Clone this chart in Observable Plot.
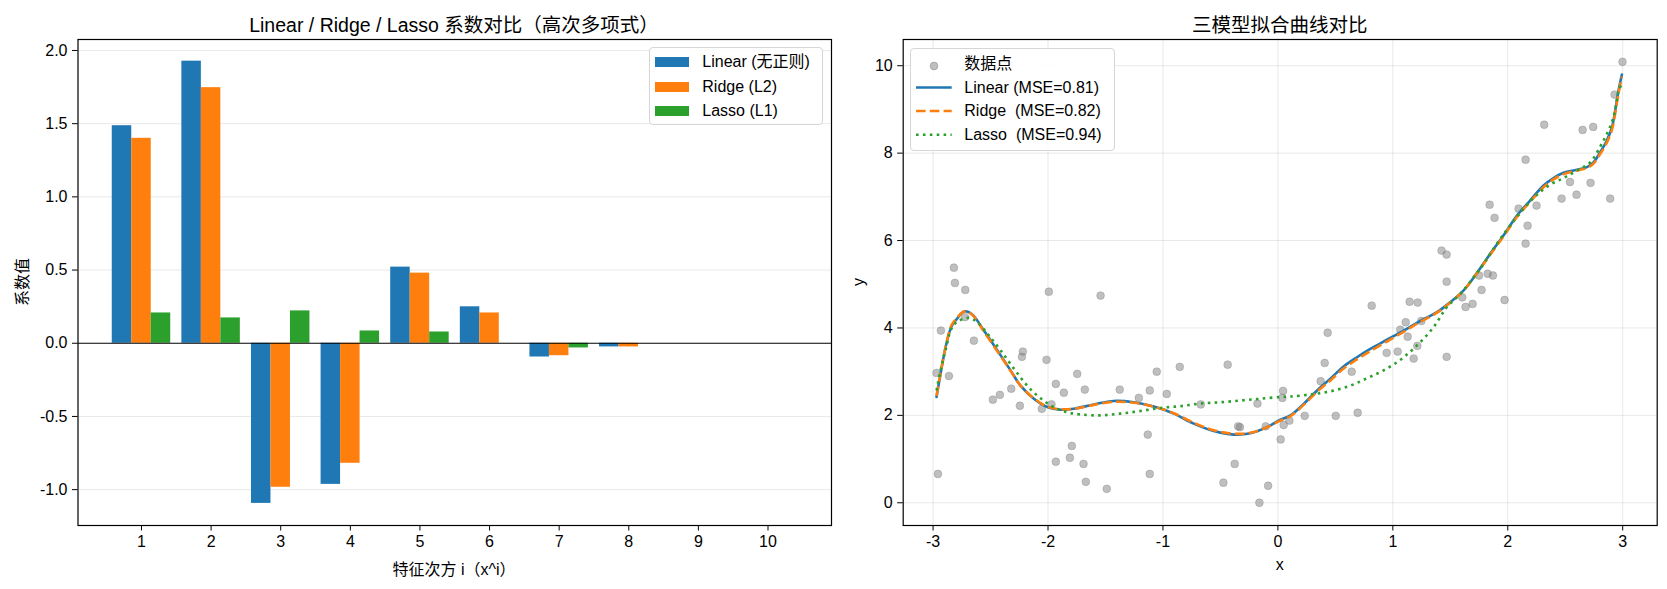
<!DOCTYPE html>
<html>
<head>
<meta charset="utf-8">
<script src="https://cdn.jsdelivr.net/npm/d3@7"></script>
<script src="https://cdn.jsdelivr.net/npm/@observablehq/plot@0.6"></script>
<style>
  body { margin: 0; background: #fff; }
  #root { position: relative; width: 1667px; height: 589px; overflow: hidden;
          font-family: "Liberation Sans", "Noto Sans CJK SC", sans-serif; color: #000; }
  .panel { position: absolute; top: 0; }
  .txt { position: absolute; white-space: pre; transform: translate(-50%, -50%); }
  .title { font-size: 19.5px; }
  .lab { font-size: 16px; }
  .legend { position: absolute; border: 1px solid #d6d6d6; border-radius: 4px;
            background: rgba(255,255,255,0.85); box-sizing: border-box; }
  .lrow { position: absolute; font-size: 16px; white-space: pre; height: 20px; line-height: 20px; }
</style>
</head>
<body>
<div id="root"></div>
<script>
// ---------------- data ----------------
const degrees = [1, 2, 3, 4, 5, 6, 7, 8, 9, 10];
const coefLinear = [1.486, 1.927, -1.094, -0.964, 0.520, 0.249, -0.094, -0.025, 0, 0];
const coefRidge  = [1.400, 1.746, -0.984, -0.820, 0.479, 0.207, -0.085, -0.025, 0, 0];
const coefLasso  = [0.207, 0.173, 0.221, 0.084, 0.077, 0, -0.032, 0, 0, 0];
const barSeries = ["Linear (无正则)", "Ridge (L2)", "Lasso (L1)"];
const barYTicks = [-1.0, -0.5, 0.0, 0.5, 1.0, 1.5, 2.0];

const scatterX = [-2.819,-2.810,-2.720,-1.993,-1.543,-2.932,-2.723,-2.645,-2.970,-2.862,
  -2.219,-2.227,-2.013,-1.746,-1.054,-0.854,-0.437,-2.480,-2.419,-2.320,
  -2.245,-1.932,-1.862,-1.680,-2.054,-1.970,-1.376,-1.115,-1.210,-0.967,
  -0.671,-0.178,0.045,0.039,-0.346,-0.106,0.050,0.024,-1.132,-1.793,
  -1.932,-1.810,-1.691,-1.671,-1.489,-1.115,-2.958,-0.376,-0.474,-0.085,
  -0.161,-0.330,
  0.100,0.233,0.503,0.694,0.372,0.407,0.642,0.433,0.816,0.946,
  1.042,1.065,1.112,1.129,1.146,1.216,1.248,1.213,1.181,1.468,
  1.468,1.604,1.633,1.694,1.772,1.750,1.825,1.871,1.972,
  2.998,2.929,2.317,2.651,2.743,2.155,2.541,2.720,2.468,2.598,
  2.891,1.842,2.094,2.250,1.885,2.172,2.155,1.424,1.468];
const scatterY = [5.38,5.03,4.87,4.83,4.74,3.94,4.25,3.71,2.97,2.90,
  3.46,3.34,3.27,2.95,3.00,3.11,3.16,2.36,2.47,2.61,
  2.22,2.72,2.52,2.59,2.15,2.25,2.59,2.57,2.40,2.49,
  2.25,2.27,2.56,2.40,1.75,1.75,1.78,1.45,1.56,1.30,
  0.94,1.03,0.89,0.48,0.32,0.66,0.66,0.89,0.46,0.39,
  0.00,1.73,
  1.88,1.99,1.99,2.06,2.78,3.20,3.00,3.89,4.51,3.43,
  3.46,3.96,4.13,3.80,4.60,4.58,4.16,3.59,3.30,3.34,
  5.06,4.70,4.48,4.55,4.87,5.20,5.24,5.20,4.64,
  10.09,9.34,8.65,8.53,8.60,7.85,7.34,7.32,6.96,7.05,
  6.96,6.82,6.73,6.80,6.52,6.34,5.93,5.77,5.68];

const linearX = [-2.970,-2.935,-2.891,-2.842,-2.804,-2.726,-2.659,-2.558,-2.442,-2.326,
  -2.239,-2.123,-2.007,-1.891,-1.776,-1.602,-1.428,-1.254,-1.080,-0.906,
  -0.732,-0.558,-0.384,-0.239,-0.094,0.022,0.109,0.224,0.341,0.457,
  0.572,0.688,0.804,0.949,1.094,1.239,1.384,1.500,1.616,1.732,
  1.848,1.964,2.080,2.196,2.311,2.398,2.485,2.601,2.688,2.746,
  2.804,2.862,2.906,2.935,2.963,2.993];
const linearY = [2.42,2.95,3.56,4.02,4.17,4.38,4.31,3.94,3.49,3.03,
  2.68,2.38,2.19,2.13,2.15,2.25,2.33,2.30,2.20,2.04,
  1.81,1.64,1.56,1.59,1.73,1.90,2.00,2.26,2.57,2.84,
  3.12,3.33,3.52,3.73,3.94,4.16,4.36,4.59,4.86,5.26,
  5.70,6.12,6.57,6.92,7.26,7.43,7.55,7.62,7.68,7.79,
  8.02,8.29,8.59,8.98,9.43,9.80];
const ridgeX = linearX.slice();
const ridgeY = [2.45,2.97,3.57,4.05,4.19,4.38,4.30,3.92,3.47,3.02,
  2.68,2.39,2.20,2.14,2.15,2.24,2.31,2.29,2.20,2.05,
  1.83,1.66,1.58,1.60,1.73,1.88,1.98,2.24,2.54,2.80,
  3.07,3.28,3.47,3.69,3.91,4.14,4.35,4.58,4.86,5.25,
  5.68,6.10,6.54,6.89,7.22,7.40,7.52,7.60,7.66,7.76,
  7.98,8.24,8.53,8.92,9.36,9.75];
const lassoX = [-2.970,-2.935,-2.891,-2.846,-2.797,-2.689,-2.616,-2.515,-2.413,-2.297,
  -2.181,-2.065,-1.950,-1.833,-1.717,-1.543,-1.370,-1.196,-1.022,-0.848,
  -0.674,-0.500,-0.326,-0.152,0.022,0.109,0.283,0.457,0.630,0.776,
  0.920,1.065,1.210,1.355,1.471,1.587,1.703,1.790,1.906,2.022,
  2.137,2.254,2.370,2.485,2.601,2.717,2.804,2.862,2.920,2.963,2.985];
const lassoY = [2.57,3.03,3.50,3.95,4.13,4.23,4.13,3.83,3.49,3.07,
  2.68,2.39,2.19,2.07,2.02,2.00,2.04,2.10,2.17,2.21,
  2.27,2.30,2.34,2.38,2.42,2.43,2.48,2.55,2.68,2.85,
  3.03,3.27,3.60,4.02,4.48,4.78,5.16,5.47,5.93,6.35,
  6.73,7.05,7.28,7.43,7.60,7.79,8.15,8.44,8.82,9.40,9.55];
const fitLegend = ["数据点", "Linear (MSE=0.81)", "Ridge  (MSE=0.82)", "Lasso  (MSE=0.94)"];
const fitXTicks = [-3, -2, -1, 0, 1, 2, 3];
const fitYTicks = [0, 2, 4, 6, 8, 10];

// ---------------- styling ----------------
const colors = ["#1f77b4", "#ff7f0e", "#2ca02c"];
const FONT = '"Liberation Sans", "Noto Sans CJK SC", sans-serif';
const root = document.getElementById("root");
const fmtMinus = (f) => (d) => f(d).replace("\u2212", "-");

function addText(str, x, y, cls, rotate) {
  const el = document.createElement("div");
  el.className = "txt " + cls;
  el.textContent = str;
  el.style.left = x + "px";
  el.style.top = y + "px";
  if (rotate) el.style.transform = "translate(-50%, -50%) rotate(-90deg)";
  root.appendChild(el);
}

// ---------------- left chart: coefficients ----------------
const barW = 0.28;
const coefSets = [coefLinear, coefRidge, coefLasso];
const bars = [];
coefSets.forEach((vals, k) => degrees.forEach((deg, i) => {
  if (vals[i] !== 0) bars.push({deg, value: vals[i], k});
}));

const left = Plot.plot({
  width: 840, height: 589,
  marginLeft: 77.5, marginRight: 9, marginTop: 39, marginBottom: 64,
  style: {fontFamily: FONT, fontSize: "16px", color: "#000", background: "transparent"},
  x: {domain: [0.088, 10.912]},
  y: {domain: [-1.245, 2.075]},
  marks: [
    Plot.gridY(barYTicks.filter(d => d !== 0), {stroke: "#000", strokeOpacity: 0.1, strokeWidth: 0.9}),
    Plot.rect(bars, {
      x1: d => d.deg + (d.k - 1) * barW - barW / 2,
      x2: d => d.deg + (d.k - 1) * barW + barW / 2,
      y1: 0, y2: "value",
      fill: d => colors[d.k]
    }),
    Plot.ruleY([0], {stroke: "#000", strokeWidth: 1.1}),
    Plot.axisX(degrees, {tickSize: 5.5, tickPadding: 5, label: null, fontSize: 16, tickFormat: d => String(d)}),
    Plot.axisY(barYTicks, {tickSize: 5.5, tickPadding: 5, label: null, fontSize: 16, tickFormat: d => d.toFixed(1)}),
    Plot.frame({stroke: "#000", strokeWidth: 1.2})
  ]
});
left.classList.add("panel");
left.style.left = "0px";
root.appendChild(left);

// ---------------- right chart: fitted curves ----------------
const pts = scatterX.map((x, i) => ({x, y: scatterY[i]}));
const lin = linearX.map((x, i) => ({x, y: linearY[i]}));
const rid = ridgeX.map((x, i) => ({x, y: ridgeY[i]}));
const las = lassoX.map((x, i) => ({x, y: lassoY[i]}));

const right = Plot.plot({
  width: 827, height: 589,
  marginLeft: 62.7, marginRight: 10.3, marginTop: 39, marginBottom: 64,
  style: {fontFamily: FONT, fontSize: "16px", color: "#000", background: "transparent"},
  x: {domain: [-3.26, 3.30]},
  y: {domain: [-0.52, 10.6]},
  marks: [
    Plot.gridX(fitXTicks, {stroke: "#000", strokeOpacity: 0.1, strokeWidth: 0.9}),
    Plot.gridY(fitYTicks, {stroke: "#000", strokeOpacity: 0.1, strokeWidth: 0.9}),
    Plot.dot(pts, {x: "x", y: "y", r: 3.9, fill: "#808080", fillOpacity: 0.5, stroke: "#808080", strokeOpacity: 0.45, strokeWidth: 0.8}),
    Plot.line(lin, {x: "x", y: "y", stroke: colors[0], strokeWidth: 2.6, curve: "catmull-rom"}),
    Plot.line(rid, {x: "x", y: "y", stroke: colors[1], strokeWidth: 2.6, curve: "catmull-rom", strokeDasharray: "9.6,4.2", strokeLinecap: "butt"}),
    Plot.line(las, {x: "x", y: "y", stroke: colors[2], strokeWidth: 2.6, curve: "catmull-rom", strokeDasharray: "2.6,4.3", strokeLinecap: "butt"}),
    Plot.axisX(fitXTicks, {tickSize: 5.5, tickPadding: 5, label: null, fontSize: 16, tickFormat: d => String(d)}),
    Plot.axisY(fitYTicks, {tickSize: 5.5, tickPadding: 5, label: null, fontSize: 16, tickFormat: d => String(d)}),
    Plot.frame({stroke: "#000", strokeWidth: 1.2})
  ]
});
right.classList.add("panel");
right.style.left = "840px";
root.appendChild(right);

// ---------------- titles & axis labels ----------------
addText("Linear / Ridge / Lasso 系数对比（高次多项式）", 454, 22.5, "title");
addText("三模型拟合曲线对比", 1279.7, 22.5, "title");
addText("特征次方 i（x^i）", 454, 567.5, "lab");
addText("系数值", 20.7, 282, "lab", true);
addText("x", 1279.7, 565, "lab");
addText("y", 858.5, 282, "lab", true);

// ---------------- legends ----------------
function legendBox(x, y, w, h) {
  const b = document.createElement("div");
  b.className = "legend";
  Object.assign(b.style, {left: x + "px", top: y + "px", width: w + "px", height: h + "px"});
  root.appendChild(b);
  return b;
}
function legendRow(str, x, cy) {
  const r = document.createElement("div");
  r.className = "lrow";
  r.textContent = str;
  r.style.left = x + "px";
  r.style.top = (cy - 10) + "px";
  root.appendChild(r);
}
// left legend
legendBox(649, 47.3, 174, 78);
const leftRows = [62.3, 86.7, 110.7];
barSeries.forEach((name, k) => {
  const sw = document.createElement("div");
  Object.assign(sw.style, {position: "absolute", left: "655px", top: (leftRows[k] - 5.2) + "px",
    width: "34.3px", height: "10.4px", background: colors[k]});
  root.appendChild(sw);
  legendRow(name, 702.3, leftRows[k]);
});
// right legend
legendBox(909.7, 47.7, 205.5, 103.5);
const rightRows = [64, 87.5, 111, 134.7];
const handle = document.createElementNS("http://www.w3.org/2000/svg", "svg");
handle.setAttribute("width", "40"); handle.setAttribute("height", "100");
Object.assign(handle.style, {position: "absolute", left: "914px", top: "50px", overflow: "visible"});
const ns = "http://www.w3.org/2000/svg";
const c = document.createElementNS(ns, "circle");
c.setAttribute("cx", 934 - 914); c.setAttribute("cy", rightRows[0] + 2 - 50); c.setAttribute("r", 3.9);
c.setAttribute("fill", "#808080"); c.setAttribute("fill-opacity", 0.5);
c.setAttribute("stroke", "#808080"); c.setAttribute("stroke-opacity", 0.45);
handle.appendChild(c);
const dashes = [null, "9.6,4.2", "2.6,4.3"];
[1, 2, 3].forEach((row, k) => {
  const l = document.createElementNS(ns, "line");
  l.setAttribute("x1", 916 - 914); l.setAttribute("x2", 951.7 - 914);
  l.setAttribute("y1", rightRows[row] - 50); l.setAttribute("y2", rightRows[row] - 50);
  l.setAttribute("stroke", colors[k]); l.setAttribute("stroke-width", 2.6);
  if (dashes[k]) l.setAttribute("stroke-dasharray", dashes[k]);
  handle.appendChild(l);
});
root.appendChild(handle);
fitLegend.forEach((name, k) => legendRow(name, 964.3, rightRows[k]));
</script>
</body>
</html>
